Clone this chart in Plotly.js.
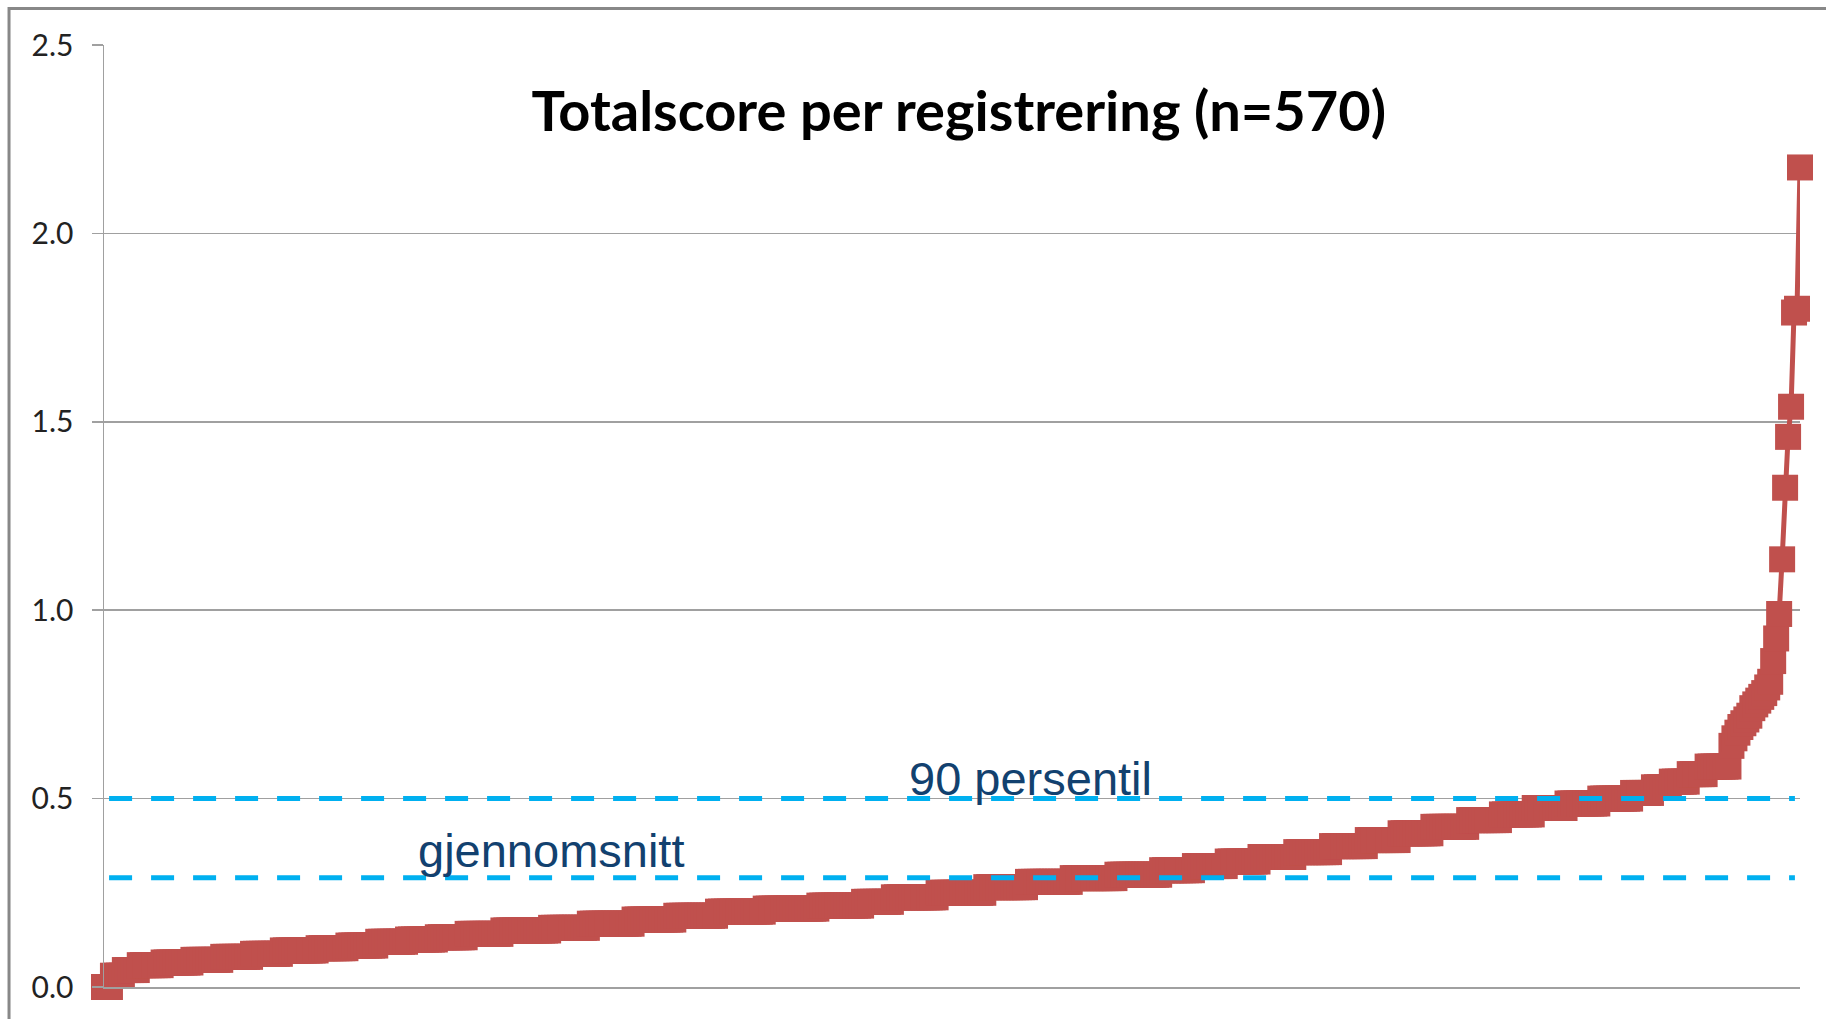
<!DOCTYPE html>
<html>
<head>
<meta charset="utf-8">
<script src="https://cdn.plot.ly/plotly-3.0.1.min.js"></script>
<style>
  html, body { margin: 0; padding: 0; background: #ffffff; }
  #chart { width: 1826px; height: 1019px; }
</style>
</head>
<body>
<div id="chart"></div>
<script>
// Sorted total score per registration (n = 570).
// Bulk of the curve as step levels (score value, number of registrations at it)
const stepLevels = [0.000, 0.030, 0.045, 0.058, 0.065, 0.072, 0.080, 0.088, 0.097, 0.103,
                    0.110, 0.120, 0.126, 0.132, 0.141, 0.150, 0.157, 0.168, 0.179, 0.189,
                    0.200, 0.208, 0.216, 0.226, 0.238, 0.250, 0.265, 0.279, 0.289, 0.298,
                    0.310, 0.321, 0.333, 0.345, 0.358, 0.374, 0.390, 0.408, 0.425, 0.443,
                    0.458, 0.475, 0.487, 0.500, 0.515, 0.530, 0.545, 0.565, 0.585];
const stepCounts = [3, 4, 5, 8, 10, 10, 10, 10, 12, 10,
                    10, 10, 10, 10, 12, 16, 13, 15, 14, 14,
                    16, 18, 15, 10, 15, 16, 14, 15, 15, 15,
                    11, 11, 11, 12, 12, 12, 11, 11, 12, 11,
                    11, 11, 11, 11, 7, 6, 6, 6, 8];
// Highest 24 registrations, one by one
const tailValues = [0.640, 0.660, 0.675, 0.690, 0.700, 0.710, 0.720, 0.740, 0.750, 0.760,
                    0.770, 0.780, 0.795, 0.810, 0.865, 0.925, 0.990, 1.135, 1.325, 1.460,
                    1.540, 1.790, 1.800, 2.175];

const meanValue = 0.29;        // gjennomsnitt
const p90Value = 0.5;          // 90 persentil
const yTickValues = [0, 0.5, 1.0, 1.5, 2.0, 2.5];
const yTickLabels = ['0.0', '0.5', '1.0', '1.5', '2.0', '2.5'];
const titleText = 'Totalscore per registrering (n=570)';
const meanLabel = 'gjennomsnitt';
const p90Label = '90 persentil';

// Build the series from the levels
const scores = [];
stepLevels.forEach((v, k) => { for (let c = 0; c < stepCounts[k]; c++) scores.push(v); });
tailValues.forEach(v => scores.push(v));
const ranks = scores.map((_, i) => i + 1);

const RED = '#C0504D';
const BLUE = '#00B0F0';
const NAVY = '#12416F';

const trace = {
  type: 'scatter',
  mode: 'lines+markers',
  x: ranks,
  y: scores,
  line: { color: RED, width: 5 },
  marker: { symbol: 'square', size: 26, color: RED, line: { width: 0 } },
  cliponaxis: false,
  hoverinfo: 'y',
  showlegend: false
};

// plot area: left 104, right 1800, top 45, bottom 987 (pixels)
const layout = {
  width: 1826,
  height: 1019,
  paper_bgcolor: '#ffffff',
  plot_bgcolor: '#ffffff',
  margin: { l: 104, r: 26, t: 45, b: 32, pad: 0 },
  showlegend: false,
  title: {
    text: '<b>' + titleText + '</b>',
    font: { family: 'Lato, "Open Sans", sans-serif', size: 56, color: '#000000' },
    xref: 'paper', x: 0.504, xanchor: 'center',
    yref: 'container', y: 0.891, yanchor: 'middle'
  },
  xaxis: {
    range: [1, ranks.length],
    showgrid: false,
    zeroline: false,
    showticklabels: false,
    ticks: '',
    showline: true,
    linecolor: '#a0a0a0',
    linewidth: 1.5
  },
  yaxis: {
    range: [0, 2.5],
    tickmode: 'array',
    tickvals: yTickValues,
    ticktext: yTickLabels,
    ticks: 'outside',
    ticklen: 11,
    tickwidth: 1.5,
    tickcolor: '#a0a0a0',
    ticklabelstandoff: 12,
    tickfont: { family: 'Lato, "Open Sans", sans-serif', size: 30, color: '#222222' },
    showgrid: true,
    gridcolor: '#a0a0a0',
    gridwidth: 1.5,
    zeroline: false,
    showline: true,
    linecolor: '#a0a0a0',
    linewidth: 1.5
  },
  shapes: [
    { type: 'line', xref: 'paper', yref: 'y', x0: 0.003, x1: 0.997, y0: p90Value, y1: p90Value,
      line: { color: BLUE, width: 5, dash: '23px,19px' }, layer: 'above' },
    { type: 'line', xref: 'paper', yref: 'y', x0: 0.003, x1: 0.997, y0: meanValue, y1: meanValue,
      line: { color: BLUE, width: 5, dash: '23px,19px' }, layer: 'above' },
    { type: 'rect', xref: 'paper', yref: 'paper', x0: -0.056, x1: 1.02, y0: -0.045, y1: 1.0388,
      line: { color: '#888888', width: 3 }, fillcolor: 'rgba(0,0,0,0)', layer: 'above' }
  ],
  annotations: [
    { text: p90Label, xref: 'paper', yref: 'y', x: 0.546, y: p90Value,
      xanchor: 'center', yanchor: 'bottom', yshift: -8, showarrow: false,
      font: { family: '"Liberation Sans", Arial, sans-serif', size: 47, color: NAVY } },
    { text: meanLabel, xref: 'paper', yref: 'y', x: 0.264, y: meanValue,
      xanchor: 'center', yanchor: 'bottom', yshift: -1, showarrow: false,
      font: { family: '"Liberation Sans", Arial, sans-serif', size: 47, color: NAVY } }
  ]
};

Plotly.newPlot('chart', [trace], layout, { displayModeBar: false, staticPlot: true });
</script>
</body>
</html>
